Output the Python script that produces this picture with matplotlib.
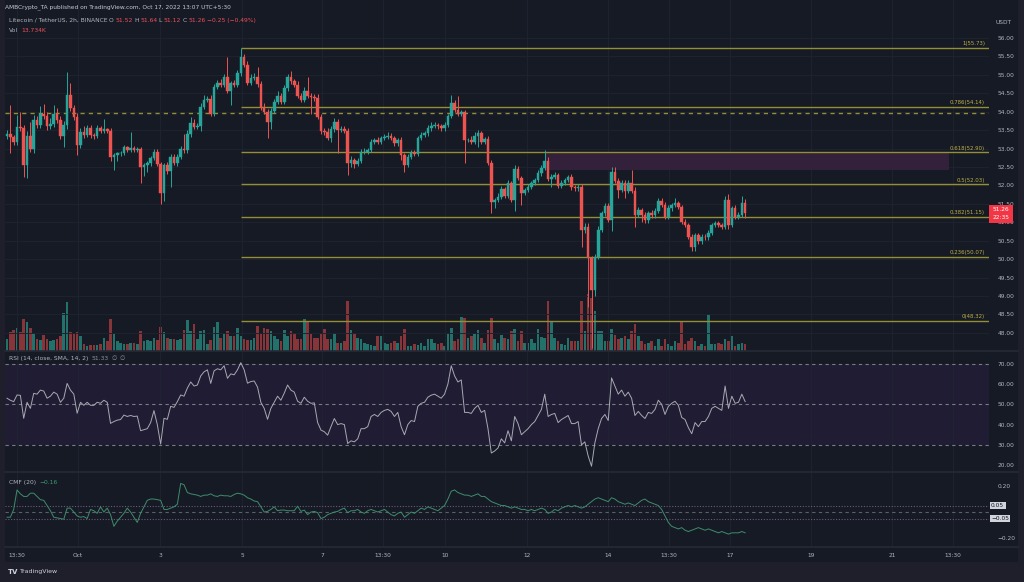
import matplotlib
matplotlib.use('Agg')
import matplotlib.pyplot as plt
from matplotlib.patches import Rectangle
import matplotlib.transforms as mtransforms
import numpy as np

plt.rcParams['font.family'] = ['DejaVu Sans']

# ------------------------------------------------------------------ data
first_open = 53.35
closes = [
    53.40, 53.32, 53.19, 53.58, 53.55, 52.56, 53.33, 52.98, 53.78, 53.64,
    53.94, 53.89, 53.60, 53.67, 53.94, 53.78, 53.35, 53.64, 54.45, 54.09,
    53.85, 53.10, 53.46, 53.37, 53.55, 53.37, 53.35, 53.55, 53.49, 53.52,
    53.49, 52.76, 52.83, 52.87, 52.89, 53.04, 52.96, 53.01, 52.96, 52.98,
    52.51, 52.56, 52.60, 52.74, 52.92, 52.58, 51.79, 52.56, 52.40, 52.78,
    52.62, 52.78, 52.98, 52.95, 53.40, 53.70,
    53.58, 53.61, 54.14, 54.32, 54.34, 53.94, 54.68, 54.77, 54.73, 54.93,
    54.57, 54.77, 54.73, 55.04, 55.48, 55.27, 54.79, 54.91, 54.95, 54.75,
    54.14, 54.00, 53.73, 54.03, 54.27, 54.43, 54.27, 54.63, 54.95, 54.82,
    54.73, 54.43, 54.32, 54.57, 54.43, 54.39, 54.36, 53.85, 53.49, 53.46,
    53.28, 53.52, 53.73, 53.51, 53.52, 53.49, 52.60, 52.69, 52.58, 52.67,
    52.92, 52.92, 52.96, 53.19, 53.23, 53.18, 53.28,
    53.32, 53.34, 53.28, 53.14, 53.23, 52.83, 52.56, 52.78, 52.89, 52.85,
    53.28, 53.37, 53.41, 53.55, 53.61, 53.64, 53.60, 53.55, 53.64, 53.89,
    54.23, 54.05, 53.94, 54.00, 53.23, 53.23, 53.19, 53.34, 53.43, 53.19,
    53.25, 52.62, 51.56, 51.61, 51.70, 51.90, 51.72, 52.06, 51.61, 52.44,
    52.20, 51.79, 51.88, 51.97, 52.06, 52.15, 52.33, 52.47, 52.67, 52.17,
    52.24, 52.29, 51.99, 52.08, 52.15, 52.22, 51.95,
    51.92, 51.95, 50.79, 50.88, 50.02, 49.17, 50.07, 50.79, 51.24, 51.44,
    51.06, 52.37, 52.13, 51.88, 52.06, 51.86, 52.06, 51.86, 51.20, 51.34,
    51.20, 51.05, 51.25, 51.19, 51.32, 51.59, 51.47, 51.14, 51.38, 51.47,
    51.53, 51.41, 51.02, 50.93, 50.61, 50.34, 50.66, 50.48, 50.61, 50.59,
    50.72, 50.93, 50.97, 50.93, 50.88, 51.61, 50.93, 51.38, 51.15, 51.20,
    51.52, 51.26,
]
upper_wick = [
    0.10, 0.77, 0.06, 0.33, 0.42, 0.10, 0.15, 0.40, 0.12, 0.10,
    0.22, 0.28, 0.10, 0.15, 0.24, 0.15, 0.10, 0.10, 0.64, 0.32,
    0.10, 0.12, 0.10, 0.15, 0.08, 0.10, 0.05, 0.10, 0.06, 0.28,
    0.05, 0.06, 0.05, 0.05, 0.05, 0.06, 0.04, 0.43, 0.05, 0.05,
    0.05, 0.05, 0.06, 0.05, 0.08, 0.08, 0.05, 0.05, 0.08, 0.06,
    0.06, 0.08, 0.10, 0.42, 0.10, 0.17,
    0.10, 0.08, 0.10, 0.12, 0.08, 0.10, 0.06, 0.10, 0.12, 0.08,
    0.56, 0.06, 0.10, 0.08, 0.24, 0.08, 0.10, 0.10, 0.10, 0.27,
    0.08, 0.10, 0.08, 0.06, 0.08, 0.12, 0.08, 0.10, 0.08, 0.15,
    0.08, 0.10, 0.08, 0.10, 0.36, 0.08, 0.08, 0.12, 0.10, 0.08,
    0.10, 0.08, 0.10, 0.08, 0.10, 0.08, 0.06, 0.10, 0.06, 0.08,
    0.08, 0.10, 0.06, 0.08, 0.06, 0.08, 0.06,
    0.08, 0.10, 0.08, 0.06, 0.06, 0.08, 0.06, 0.08, 0.06, 0.06,
    0.06, 0.08, 0.06, 0.08, 0.10, 0.08, 0.06, 0.06, 0.08, 0.06,
    0.22, 0.08, 0.38, 0.06, 0.06, 0.06, 0.10, 0.10, 0.08, 0.06,
    0.06, 0.08, 0.06, 0.06, 0.10, 0.08, 0.06, 0.08, 0.06, 0.11,
    0.08, 0.06, 0.06, 0.06, 0.06, 0.06, 0.08, 0.08, 0.29, 0.10,
    0.06, 0.08, 0.06, 0.06, 0.06, 0.06, 0.08,
    0.06, 0.08, 0.10, 0.10, 0.10, 0.06, 0.08, 0.10, 0.08, 0.08,
    0.08, 0.14, 0.12, 0.08, 0.10, 0.10, 0.08, 0.35, 0.10, 0.08,
    0.06, 0.08, 0.06, 0.08, 0.06, 0.08, 0.06, 0.08, 0.08, 0.06,
    0.12, 0.06, 0.06, 0.06, 0.06, 0.06, 0.06, 0.06, 0.06, 0.06,
    0.06, 0.06, 0.06, 0.06, 0.06, 0.10, 0.16, 0.06, 0.08, 0.08,
    0.20, 0.12,
]
lower_wick = [
    0.08, 0.45, 0.10, 0.08, 0.08, 0.32, 0.35, 0.08, 0.10, 0.08,
    0.08, 0.08, 0.10, 0.08, 0.08, 0.08, 0.10, 0.31, 0.10, 0.08,
    0.08, 0.27, 0.08, 0.08, 0.06, 0.08, 0.10, 0.06, 0.08, 0.06,
    0.06, 0.10, 0.34, 0.18, 0.06, 0.06, 0.06, 0.06, 0.06, 0.06,
    0.45, 0.25, 0.20, 0.06, 0.06, 0.06, 0.30, 0.20, 0.08, 0.43,
    0.06, 0.08, 0.06, 0.06, 0.06, 0.08,
    0.06, 0.06, 0.12, 0.06, 0.06, 0.06, 0.06, 0.06, 0.06, 0.06,
    0.06, 0.40, 0.06, 0.06, 0.06, 0.06, 0.06, 0.06, 0.06, 0.08,
    0.10, 0.06, 0.45, 0.20, 0.06, 0.06, 0.06, 0.06, 0.06, 0.06,
    0.06, 0.06, 0.06, 0.06, 0.06, 0.45, 0.06, 0.06, 0.10, 0.08,
    0.06, 0.10, 0.06, 0.64, 0.06, 0.06, 0.31, 0.10, 0.12, 0.06,
    0.06, 0.06, 0.06, 0.06, 0.06, 0.06, 0.06,
    0.06, 0.06, 0.06, 0.06, 0.06, 0.15, 0.20, 0.06, 0.06, 0.06,
    0.06, 0.06, 0.06, 0.06, 0.06, 0.06, 0.06, 0.06, 0.06, 0.06,
    0.06, 0.06, 0.06, 0.06, 0.63, 0.06, 0.06, 0.06, 0.30, 0.06,
    0.06, 0.06, 0.31, 0.18, 0.06, 0.06, 0.06, 0.06, 0.06, 0.29,
    0.06, 0.32, 0.06, 0.06, 0.06, 0.06, 0.06, 0.06, 0.06, 0.06,
    0.20, 0.06, 0.06, 0.06, 0.06, 0.06, 0.06,
    0.06, 0.06, 0.45, 0.08, 1.31, 1.57, 0.18, 0.06, 0.06, 0.06,
    0.06, 0.30, 0.06, 0.22, 0.06, 0.20, 0.06, 0.06, 0.32, 0.06,
    0.20, 0.06, 0.06, 0.06, 0.06, 0.06, 0.06, 0.06, 0.06, 0.06,
    0.06, 0.06, 0.06, 0.06, 0.06, 0.13, 0.12, 0.06, 0.06, 0.06,
    0.06, 0.06, 0.06, 0.06, 0.06, 0.06, 0.12, 0.06, 0.06, 0.06,
    0.06, 0.14,
]
volume_k = [
    24, 38, 42, 46, 38, 64, 58, 46, 36, 24,
    22, 32, 24, 20, 22, 24, 30, 76, 98, 38,
    34, 38, 30, 14, 10, 12, 12, 12, 14, 26,
    20, 64, 34, 20, 16, 14, 14, 16, 16, 14,
    40, 20, 22, 20, 26, 22, 48, 38, 26, 24,
    24, 22, 24, 42, 62, 40,
    54, 24, 40, 42, 14, 22, 48, 58, 26, 36,
    40, 30, 30, 46, 30, 24, 22, 22, 26, 50,
    34, 46, 44, 40, 30, 24, 20, 42, 30, 40,
    36, 24, 24, 64, 60, 34, 26, 26, 34, 44,
    24, 24, 36, 16, 16, 20, 100, 42, 36, 26,
    24, 16, 14, 12, 10, 30, 30,
    16, 14, 16, 20, 16, 30, 44, 10, 10, 14,
    12, 16, 10, 24, 24, 16, 14, 16, 10, 36,
    46, 20, 24, 68, 66, 26, 30, 34, 42, 26,
    16, 42, 66, 24, 16, 32, 26, 24, 40, 44,
    20, 40, 16, 16, 24, 16, 44, 28, 26, 100,
    58, 26, 20, 14, 12, 26, 20,
    20, 20, 100, 40, 114, 106, 80, 40, 40, 20,
    20, 44, 32, 24, 26, 30, 24, 40, 54, 30,
    20, 14, 16, 20, 10, 24, 10, 24, 14, 10,
    20, 16, 60, 14, 20, 26, 20, 10, 14, 10,
    74, 14, 14, 16, 14, 24, 20, 30, 10, 14,
    16, 13.7,
]
rsi = [
    53, 52, 51.3, 54.6, 54.4, 43.1, 51, 48, 55.4, 55,
    57, 56.5, 53, 54, 56, 55, 51, 53, 60.3, 57,
    55, 45.6, 51, 49.5, 51, 49.5, 49.5, 51, 50.5, 52,
    51, 40.6, 41.5, 42.2, 42.5, 44.7, 44, 44.5, 44, 44.2,
    37, 37.5, 38, 41, 46.9, 40, 30.4, 43.1, 42.6, 49,
    48.5, 51.3, 54.6, 54, 58, 61, 59, 59.5, 64, 66,
    67, 60.3, 66.5, 67.5, 67, 69, 62.8, 65, 64.5, 67,
    70.5, 67, 60.4, 61.2, 61.5, 58.5, 51, 48, 42.6, 48,
    51, 54, 52, 55.5, 59.5, 57, 56, 51.5, 50.5, 53.5,
    51.5, 50.5, 50.7, 41, 37.3, 36.5, 34.8, 39, 43, 40,
    40.5, 40, 30.7, 32, 31.5, 33, 38, 38, 39, 44,
    45, 44, 46, 47, 47.5, 46.5, 44, 46, 39, 35,
    40, 42, 41.5, 49, 50.5, 51, 53.5, 54.5, 55, 54,
    53, 55, 60, 69, 64, 61, 62, 46, 46, 45.5,
    48, 49.5, 46, 47, 38, 26, 27, 28.5, 33, 31,
    37, 32, 44, 40.5, 35, 36.5, 38, 40, 41.5, 44.5,
    47.5, 55, 44, 45, 45.5, 41, 42.5, 43.5, 44.5, 40.5,
    40.5, 41.5, 30, 31.5, 24.5, 19.5, 31, 38, 43, 45,
    42, 63, 59, 55, 57, 54, 56, 53, 44.5, 46.5,
    44.5, 43, 46, 45.5, 47.5, 52, 50, 45, 49, 50.5,
    51.5, 49.5, 43.5, 42.5, 38.5, 35.5, 41, 39, 41.5, 41.5,
    44, 48, 49, 48, 47, 59, 48, 54, 50.5, 51,
    55, 51.33,
]
cmf = [
    -0.04, -0.04, 0.02, 0.17, 0.14, 0.12, 0.12, 0.145, 0.145, 0.12,
    0.095, 0.09, 0.05, 0.01, -0.04, -0.045, -0.05, -0.055, 0.03, 0.03,
    0.0, -0.03, -0.04, -0.035, -0.05, 0.02, 0.01, -0.01, 0.04, 0.0,
    0.03, -0.02, -0.11, -0.07, -0.04, -0.01, 0.03, 0.0, -0.04, -0.08,
    -0.01, 0.04, 0.09, 0.10, 0.10, 0.095, 0.09, 0.02, 0.02, 0.03,
    0.04, 0.06, 0.22, 0.21, 0.15, 0.14, 0.135, 0.13, 0.12, 0.13,
    0.13, 0.14, 0.125, 0.12, 0.13, 0.125, 0.125, 0.12, 0.135, 0.145,
    0.14, 0.13, 0.11, 0.10, 0.085, 0.08, 0.04, 0.0, 0.005, 0.02,
    0.04, 0.01, 0.015, 0.015, 0.01, 0.01, 0.01, 0.045, 0.005, 0.015,
    -0.02, 0.0, 0.005, -0.005, -0.05, -0.04, -0.02, -0.01, 0.0, 0.005,
    0.02, 0.03, -0.005, 0.01, 0.01, 0.02, 0.0, -0.01, 0.01, 0.02,
    0.01, 0.0, 0.01, 0.02, 0.0, -0.02, -0.03, -0.01, 0.0, -0.04,
    -0.02, 0.0, -0.01, 0.01, 0.03, 0.02, 0.04, 0.03, 0.02, 0.01,
    0.03, 0.05, 0.10, 0.16, 0.17, 0.15, 0.14, 0.13, 0.13, 0.12,
    0.13, 0.14, 0.12, 0.12, 0.10, 0.08, 0.07, 0.06, 0.05, 0.05,
    0.04, 0.03, 0.04, 0.03, 0.02, 0.02, 0.01, 0.02, 0.01, 0.02,
    0.03, 0.02, -0.01, 0.0, 0.02, 0.01, 0.03, 0.04, 0.05, 0.04,
    0.05, 0.04, 0.03, 0.04, 0.06, 0.08, 0.10, 0.11, 0.10, 0.09,
    0.08, 0.11, 0.10, 0.08, 0.07, 0.06, 0.07, 0.06, 0.05, 0.07,
    0.09, 0.10, 0.08, 0.07, 0.06, 0.05, 0.02, -0.03, -0.08, -0.11,
    -0.12, -0.13, -0.12, -0.14, -0.15, -0.14, -0.13, -0.12, -0.13, -0.14,
    -0.13, -0.14, -0.15, -0.16, -0.15, -0.16, -0.17, -0.16, -0.16, -0.16,
    -0.15, -0.16,
]

fib_ratios = ['1', '0.786', '0.618', '0.5', '0.382', '0.236', '0']
fib_levels = [55.73, 54.14, 52.90, 52.03, 51.15, 50.07, 48.32]
dashed_level = 53.96
zone_low, zone_high = 52.42, 52.90
zone_start, zone_end = 161, 282

price_ticks = [48.0, 48.5, 49.0, 49.5, 50.0, 50.5, 51.0, 51.5, 52.0, 52.5,
               53.0, 53.5, 54.0, 54.5, 55.0, 55.5, 56.0]
rsi_ticks = [20, 30, 40, 50, 60, 70]
cmf_ticks = [-0.20, 0.20]
time_tick_pos = [3.0, 21.3, 45.8, 70.4, 94.3, 112.6, 131.1, 155.7, 179.9,
                 198.2, 216.5, 240.7, 265.0, 283.2]
time_tick_labels = ['13:30', 'Oct', '3', '5', '7', '13:30', '10', '12', '14',
                    '13:30', '17', '19', '21', '13:30']

# ------------------------------------------------------------------ style
W, H = 1024, 582
BG = '#161a25'
FRAME = '#1e1f2b'
GRID = '#1f2330'
TXT = '#b2b5be'
UP = '#26a69a'
DN = '#ef5350'
VUP = '#22716a'
VDN = '#873538'
FIB = '#938f34'
FIBTXT = '#bcb046'

n = min(len(closes), len(upper_wick), len(lower_wick), len(volume_k),
        len(rsi), len(cmf))
closes = np.array(closes[:n])
opens = np.array([first_open] + list(closes[:-1]))
highs = np.maximum(opens, closes) + np.array(upper_wick[:n])
lows = np.minimum(opens, closes) - np.array(lower_wick[:n])
vol = np.array(volume_k[:n])
rsi_v = np.array(rsi[:n])
cmf_v = np.array(cmf[:n])
idx = np.arange(n)
is_up = closes >= opens

fig = plt.figure(figsize=(W / 100, H / 100), dpi=100)
fig.patch.set_facecolor(FRAME)
fig.add_artist(Rectangle((5 / W, 1 - 562 / H), (1018 - 5) / W, 562 / H,
                         transform=fig.transFigure, facecolor=BG,
                         edgecolor='none', zorder=0))


def ax_at(x0, y0, x1, y1, z=1):
    a = fig.add_axes([x0 / W, 1 - y1 / H, (x1 - x0) / W, (y1 - y0) / H])
    a.set_facecolor('none')
    a.set_zorder(z)
    for s in a.spines.values():
        s.set_visible(False)
    return a


XL = (-0.6, 294.0)
TS = 4.2
BW = 0.78

# ---------------- main pane
ax_vol = ax_at(5, 0, 989, 351, z=1)
ax_vol.set_xlim(*XL)
ax_vol.set_ylim(0, 702)
ax_vol.bar(idx, vol, width=BW, color=np.where(is_up, VUP, VDN), linewidth=0)
ax_vol.set_xticks([])
ax_vol.set_yticks([])

ax = ax_at(5, 0, 989, 351, z=2)
ax.set_xlim(*XL)
ax.set_ylim(47.51, 57.03)
for p in price_ticks:
    ax.axhline(p, color=GRID, lw=0.7, zorder=0)
for t in time_tick_pos:
    ax.axvline(t, color=GRID, lw=0.7, zorder=0)
ax.yaxis.tick_right()
ax.set_yticks(price_ticks)
ax.set_yticklabels([f'{p:.2f}' for p in price_ticks])
ax.tick_params(axis='y', length=0, pad=6, labelsize=TS, labelcolor=TXT)
ax.set_xticks([])

# zone
ax.add_patch(Rectangle((zone_start, zone_low), zone_end - zone_start,
                       zone_high - zone_low, facecolor='#33213c',
                       edgecolor='none', zorder=1))
ax.hlines(zone_high, zone_start, zone_end, colors='#6b4a6e', lw=0.6,
          linestyles=(0, (1, 1)), zorder=1.1)

# fib
fib_start = int(np.argmax(highs))
blend = mtransforms.blended_transform_factory(ax.transAxes, ax.transData)
for r, lv in zip(fib_ratios, fib_levels):
    ax.hlines(lv, fib_start, XL[1], colors=FIB, lw=1.0, zorder=1.5)
    ax.annotate(f'{r}({lv:.2f})', xy=((985 - 5) / 984, lv), xycoords=blend,
                xytext=(0, 1.2), textcoords='offset points', ha='right',
                va='bottom', fontsize=3.9, color=FIBTXT, zorder=3)
ax.axhline(dashed_level, color=FIB, lw=1.0, linestyle=(0, (3, 3)), zorder=1.5)

# candles
cols = np.where(is_up, UP, DN)
ax.vlines(idx, lows, highs, colors=cols, lw=0.7, zorder=2)
ax.bar(idx, np.abs(closes - opens), bottom=np.minimum(opens, closes),
       width=BW, color=cols, edgecolor=cols, linewidth=0.3, zorder=2.1)

# ---------------- RSI pane
ax_r = ax_at(5, 351, 989, 472, z=2)
ax_r.set_xlim(*XL)
ax_r.set_ylim(16.65, 76.26)
ax_r.axhspan(30, 70, color='#201c33', zorder=0, lw=0)
for t in time_tick_pos:
    ax_r.axvline(t, color=GRID, lw=0.7, zorder=0.5)
for lv in (70, 50, 30):
    ax_r.axhline(lv, color='#787b86', lw=0.8, linestyle=(0, (3, 3)), zorder=1)
ax_r.plot(idx, rsi_v, color='#a8a9b2', lw=0.7, zorder=2)
ax_r.yaxis.tick_right()
ax_r.set_yticks(rsi_ticks)
ax_r.set_yticklabels([f'{v:.2f}' for v in rsi_ticks])
ax_r.tick_params(axis='y', length=0, pad=6, labelsize=TS, labelcolor=TXT)
ax_r.set_xticks([])

# ---------------- CMF pane
ax_c = ax_at(5, 472, 989, 547, z=2)
ax_c.set_xlim(*XL)
ax_c.set_ylim(-0.269, 0.308)
for t in time_tick_pos:
    ax_c.axvline(t, color=GRID, lw=0.7, zorder=0.5)
ax_c.axhline(0.05, color='#6c5a7a', lw=0.8, linestyle=(0, (1, 1.5)), zorder=1)
ax_c.axhline(-0.05, color='#6c5a7a', lw=0.8, linestyle=(0, (1, 1.5)), zorder=1)
ax_c.axhline(0.0, color='#5d606b', lw=0.8, linestyle=(0, (3, 3)), zorder=1)
ax_c.plot(idx, cmf_v, color='#3e8d6c', lw=0.7, zorder=2)
ax_c.yaxis.tick_right()
ax_c.set_yticks(cmf_ticks)
ax_c.set_yticklabels([f'{v:.2f}'.replace('-', '\u2212') for v in cmf_ticks])
ax_c.tick_params(axis='y', length=0, pad=6, labelsize=TS, labelcolor=TXT)
ax_c.set_xticks(time_tick_pos)
ax_c.set_xticklabels(time_tick_labels)
ax_c.tick_params(axis='x', length=0, pad=4.5, labelsize=TS, labelcolor=TXT)

cblend = mtransforms.blended_transform_factory(fig.transFigure, ax_c.transData)
for lv, lab in ((0.05, '0.05'), (-0.05, '\u22120.05')):
    ax_c.text(991 / W, lv, lab, transform=cblend, fontsize=TS, color='#131722',
              va='center', ha='left', clip_on=False, zorder=5,
              bbox=dict(boxstyle='square,pad=0.25', facecolor='#d1d4dc',
                        edgecolor='none'))

# ---------------- separators
for yy in (351, 472, 547):
    fig.add_artist(plt.Line2D([5 / W, 1018 / W], [1 - yy / H, 1 - yy / H],
                              transform=fig.transFigure, color='#262a36',
                              lw=1.2, zorder=10))

# ---------------- texts
renderer = fig.canvas.get_renderer()


def seq_text(x_px, y_px, parts, size, gap=2.0):
    x = x_px
    for s, c in parts:
        t = fig.text(x / W, 1 - y_px / H, s, color=c, fontsize=size,
                     va='center', ha='left', zorder=20)
        bb = t.get_window_extent(renderer=renderer)
        x = bb.x1 + gap


RED = '#f0505a'
seq_text(5, 7.5, [('AMBCrypto_TA published on TradingView.com, Oct 17, 2022 13:07 UTC+5:30', '#c8cad2')], 4.2)
seq_text(9, 20.5, [('Litecoin / TetherUS, 2h, BINANCE', TXT), ('O', TXT), ('51.52', RED),
                   ('H', TXT), ('51.64', RED), ('L', TXT), ('51.12', RED),
                   ('C', TXT), ('51.26', RED), ('\u22120.25 (\u22120.49%)', RED)], 4.3, gap=1.5)
seq_text(9, 31, [('Vol', TXT), ('13.734K', RED)], 4.3, gap=3)
seq_text(9, 358.5, [('RSI (14, close, SMA, 14, 2)', TXT), ('51.33', '#8f8f9c'),
                    ('\u2205', '#8f8f9c'), ('\u2205', '#8f8f9c')], 4.3, gap=3)
seq_text(9, 482.5, [('CMF (20)', TXT), ('\u22120.16', '#3e9a72')], 4.3, gap=3)
fig.text(995 / W, 1 - 22 / H, 'USDT', color=TXT, fontsize=TS, va='center', ha='left')

# last price box
last_y = ax.transData.transform((0, closes[-1]))[1]
fig.add_artist(Rectangle((989 / W, (last_y - 10) / H), 24 / W, 18 / H,
                         transform=fig.transFigure, facecolor='#f23645',
                         edgecolor='none', zorder=15))
fig.text(1001 / W, (last_y + 3.5) / H, f'{closes[-1]:.2f}', color='white',
         fontsize=TS, ha='center', va='center', zorder=16)
fig.text(1001 / W, (last_y - 4.5) / H, '22:35', color='white', fontsize=TS,
         ha='center', va='center', zorder=16)

# logo
fig.text(8 / W, 1 - 572 / H, 'TV', color='#d1d4dc', fontsize=5, weight='bold',
         va='center', ha='left')
fig.text(20 / W, 1 - 572 / H, 'TradingView', color='#d1d4dc', fontsize=4.5,
         va='center', ha='left')

fig.savefig('out.png', dpi=100, facecolor=fig.get_facecolor())
